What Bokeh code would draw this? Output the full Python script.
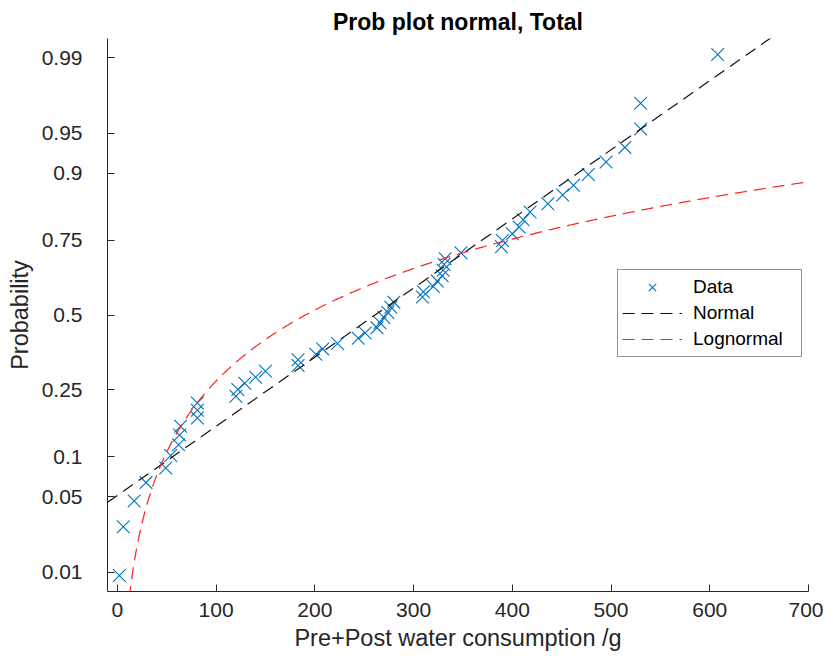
from statistics import NormalDist
import math
from bokeh.plotting import figure
from bokeh.models import Range1d, FixedTicker, Legend, LegendItem
from bokeh.embed import file_html
from bokeh.resources import INLINE

# ---- data ----
water_g = [2, 6, 17, 29, 49, 54, 62, 63, 64, 81, 81, 81, 120, 122, 129, 140,
           150, 183, 183, 201, 208, 223, 244, 251, 263, 266, 270, 274, 277, 280,
           309, 310, 320, 324, 329, 330, 331, 332, 348, 389, 390, 400, 407, 411,
           418, 436, 451, 462, 477, 495, 514, 530, 530, 608]
prob_ticks = [0.01, 0.05, 0.1, 0.25, 0.5, 0.75, 0.9, 0.95, 0.99]
prob_labels = ["0.01", "0.05", "0.1", "0.25", "0.5", "0.75", "0.9", "0.95", "0.99"]
x_ticks = [0, 100, 200, 300, 400, 500, 600, 700]
normal_mu, normal_sigma = 261.0, 160.0      # fitted normal
logn_mu, logn_sigma = 5.25, 1.08            # fitted lognormal

nd = NormalDist()
n = len(water_g)
xs = sorted(water_g)
# probability plot positions (i-0.5)/n on the probit scale
zs = [nd.inv_cdf((i + 0.5) / n) for i in range(n)]

# reference lines
norm_x = [-10.0, 700.0]
norm_z = [(v - normal_mu) / normal_sigma for v in norm_x]
logn_x = [10 + k * 1.0 for k in range(0, 691)]
logn_z = [(math.log(v) - logn_mu) / logn_sigma for v in logn_x]

FONT = "Liberation Sans"
AX = "#262626"

p = figure(width=823, height=653, output_backend="svg", toolbar_location=None,
           x_range=Range1d(-10, 700), y_range=Range1d(-2.5, 2.5),
           min_border_left=107, min_border_right=15, min_border_top=38,
           min_border_bottom=61)
p.title.text = "Prob plot normal, Total"
p.title.text_font = FONT
p.title.text_font_size = "23px"
p.title.text_font_style = "bold"
p.title.align = "center"
p.title.text_color = "#000000"
p.title.standoff = 7

p.grid.visible = False
p.outline_line_color = None
p.background_fill_color = "white"
p.border_fill_color = "white"

r_data = p.scatter(xs, zs, marker="x", size=18, line_color="#0072BD", line_width=1.1)
r_norm = p.line(norm_x, norm_z, line_color="#111111", line_width=1.2, line_dash="12 7")
r_logn = p.line(logn_x, logn_z, line_color="#FF2020", line_width=1.2, line_dash="12 7")

for ax in (p.xaxis[0], p.yaxis[0]):
    ax.axis_line_color = AX
    ax.major_tick_line_color = AX
    ax.minor_tick_line_color = None
    ax.major_tick_in = 7
    ax.major_tick_out = 0
    ax.major_label_text_font = FONT
    ax.major_label_text_font_size = "21px"
    ax.major_label_text_color = AX
    ax.axis_label_text_font = FONT
    ax.axis_label_text_font_size = "23.5px"
    ax.axis_label_text_font_style = "normal"
    ax.axis_label_text_color = AX

p.xaxis.ticker = FixedTicker(ticks=x_ticks)
p.xaxis.axis_label = "Pre+Post water consumption /g"
p.xaxis.major_label_standoff = 11
p.xaxis.axis_label_standoff = 5

ztick = [nd.inv_cdf(v) for v in prob_ticks]
p.yaxis.ticker = FixedTicker(ticks=ztick)
p.yaxis.major_label_overrides = {z: lab for z, lab in zip(ztick, prob_labels)}
p.yaxis.axis_label = "Probability"
p.yaxis.major_label_standoff = 25
p.yaxis.axis_label_standoff = 6

legend = Legend(items=[LegendItem(label="Data", renderers=[r_data]),
                       LegendItem(label="Normal", renderers=[r_norm]),
                       LegendItem(label="Lognormal", renderers=[r_logn])],
                location=(510, 234))
legend.label_text_font = FONT
legend.label_text_font_size = "19px"
legend.label_text_color = "#000000"
legend.glyph_width = 60
legend.glyph_height = 26
legend.label_height = 26
legend.label_width = 104
legend.label_standoff = 11
legend.padding = 4
legend.spacing = 0
legend.margin = 0
legend.border_line_color = AX
legend.border_line_width = 1
legend.background_fill_alpha = 1.0
p.add_layout(legend, "center")

open("out.html", "w").write(file_html(p, INLINE))
